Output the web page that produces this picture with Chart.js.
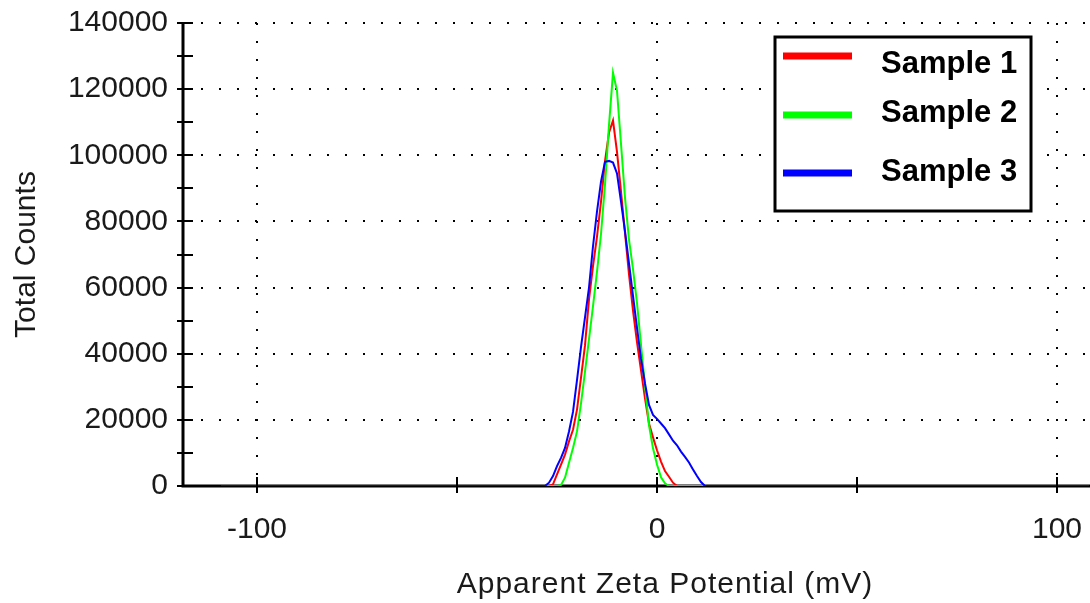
<!DOCTYPE html>
<html>
<head>
<meta charset="utf-8">
<script src="https://cdn.jsdelivr.net/npm/chart.js@4.4.1/dist/chart.umd.min.js"></script>
<style>
  html, body { margin: 0; padding: 0; background: #fff; }
  #wrap { width: 1090px; height: 603px; position: relative; }
</style>
</head>
<body>
<div id="wrap"><canvas id="zeta"></canvas></div>
<script>
const zeta = [-109, -28, -27, -26, -25, -24, -23, -22, -21, -20, -19, -18, -17, -16, -15, -14, -13, -12, -11, -10, -9,
  -8, -7, -6, -5, -4, -3, -2, -1, 0, 1, 2, 3, 4, 5, 6, 7, 8, 9, 10, 11, 12, 108];

const sample1 = [0, 0, 0, 500, 3500, 6500, 9500, 13500, 17000, 23100, 32800,
  42500, 56400, 66500, 75400, 86000, 98200, 106800, 110500, 101000, 89000,
  76500, 64000, 53000, 43500, 35000, 26500, 18900, 14700, 10800, 7400,
  4500, 2800, 1000, 0, 0, 0, 0, 0, 0, 0, 0, 0];
const sample2 = [0, 0, 0, 0, 0, 300, 2500, 7000, 11500, 16500, 25000,
  34600, 44400, 54400, 64800, 76200, 91200, 109100, 125000, 119500, 103500,
  87200, 74500, 65600, 55300, 42700, 30300, 18400, 11400, 6500, 2600,
  800, 0, 0, 0, 0, 0, 0, 0, 0, 0, 0, 0];
const sample3 = [0, 0, 1000, 3000, 6000, 8500, 11500, 16500, 22400, 32000, 42000,
  51000, 60000, 72500, 83000, 92000, 98000, 98300, 97800, 94500, 86000,
  77000, 67300, 57500, 47800, 38500, 31000, 24500, 21500, 20300, 18900,
  17500, 15600, 13700, 12300, 10400, 8800, 7100, 5000, 3000, 1200, 0, 0];

const seriesNames = ["Sample 1", "Sample 2", "Sample 3"];
const seriesColors = ["#ff0000", "#00ff00", "#0000ff"];
const xTicks = [-100, -50, 0, 50, 100];
const xLabels = [-100, 0, 100];
const xTitle = "Apparent Zeta Potential (mV)";

function toPoints(values){
    return zeta.map((z, i) => ({x: z, y: values[i]}));
}

const FONT = "'Liberation Sans', Arial, sans-serif";

// axis lines, crossing tick marks, x title and the boxed legend
const axesPlugin = {
    id: "axesPlugin",
    beforeDatasetsDraw(chart){
        const c = chart.ctx;
        const a = chart.chartArea;
        c.save();
        c.strokeStyle = "#000";
        c.lineWidth = 3;
        c.beginPath();
        c.moveTo(a.left, a.top);
        c.lineTo(a.left, a.bottom);
        c.lineTo(a.right, a.bottom);
        c.stroke();
        c.restore();
    },
    afterDatasetsDraw(chart){
        const c = chart.ctx;
        const a = chart.chartArea;
        const xs = chart.scales.x;
        const ys = chart.scales.y;
        c.save();
        c.strokeStyle = "#000";
        c.lineWidth = 2;
        c.beginPath();
        for(let v = 0; v <= 140000; v += 10000){
            const py = Math.round(ys.getPixelForValue(v));
            c.moveTo(a.left - 6, py);
            c.lineTo(a.left + 10, py);
        }
        xTicks.forEach(v => {
            const px = Math.round(xs.getPixelForValue(v));
            c.moveTo(px, a.bottom - 9);
            c.lineTo(px, a.bottom + 7);
        });
        c.stroke();

        // x axis title, a little letter-spaced like the original
        c.fillStyle = "#1a1a1a";
        c.font = "30px " + FONT;
        c.textAlign = "center";
        c.textBaseline = "middle";
        c.letterSpacing = "1px";
        c.fillText(xTitle, 665, 585);
        c.letterSpacing = "0px";

        // legend
        const box = {left: 775, top: 37, right: 1031, bottom: 211};
        c.fillStyle = "#fff";
        c.fillRect(box.left, box.top, box.right - box.left, box.bottom - box.top);
        c.lineWidth = 3;
        c.strokeRect(box.left, box.top, box.right - box.left, box.bottom - box.top);
        const lineY = [56, 115, 173];
        const textY = [64, 113, 172];
        c.font = "bold 31px " + FONT;
        c.textBaseline = "middle";
        c.textAlign = "left";
        seriesNames.forEach((name, i) => {
            c.strokeStyle = seriesColors[i];
            c.lineWidth = 7;
            c.beginPath();
            c.moveTo(783, lineY[i]);
            c.lineTo(852, lineY[i]);
            c.stroke();
            c.fillStyle = "#000";
            c.fillText(name, 881, textY[i]);
        });
        c.restore();
    }
};

const datasets = [sample1, sample2, sample3].map((vals, i) => ({
    label: seriesNames[i],
    data: toPoints(vals),
    borderColor: seriesColors[i],
    borderWidth: 2,
    pointRadius: 0,
    tension: 0,
    fill: false,
    order: 2 - i
}));

new Chart(document.getElementById("zeta"), {
    type: "line",
    data: { datasets: datasets },
    plugins: [axesPlugin],
    options: {
        responsive: true,
        maintainAspectRatio: false,
        animation: false,
        layout: { padding: { top: 23, right: 0, left: 0, bottom: 0 } },
        plugins: {
            legend: { display: false },
            tooltip: { enabled: false }
        },
        scales: {
            x: {
                type: "linear",
                min: -118.5,
                max: 108.25,
                afterBuildTicks(scale){
                    scale.ticks = xTicks.map(v => ({value: v}));
                },
                afterFit(scale){
                    scale.height = 117;
                    scale.paddingLeft = 0;
                    scale.paddingRight = 0;
                },
                grid: {
                    drawTicks: false,
                    lineWidth: 2,
                    color: ctx => (ctx.tick && xLabels.includes(ctx.tick.value)) ? "#000" : "rgba(0,0,0,0)"
                },
                border: { display: false, dash: [2, 16] },
                ticks: {
                    padding: 26,
                    autoSkip: false,
                    maxRotation: 0,
                    color: "#1a1a1a",
                    font: { family: FONT, size: 30 },
                    callback: v => xLabels.includes(v) ? String(v) : ""
                },
                title: { display: false }
            },
            y: {
                min: 0,
                max: 140000,
                afterFit(scale){
                    scale.width = 183;
                    scale.paddingTop = 0;
                    scale.paddingBottom = 0;
                },
                grid: {
                    drawTicks: false,
                    lineWidth: 2,
                    color: ctx => (ctx.tick && ctx.tick.value > 0) ? "#000" : "rgba(0,0,0,0)"
                },
                border: { display: false, dash: [2, 16] },
                ticks: {
                    stepSize: 20000,
                    padding: 15,
                    color: "#1a1a1a",
                    font: { family: FONT, size: 30 },
                    callback: v => String(v)
                },
                title: {
                    display: true,
                    text: "Total Counts",
                    color: "#1a1a1a",
                    font: { family: FONT, size: 30 },
                    padding: { top: 9, bottom: 0 }
                }
            }
        }
    }
});
</script>
</body>
</html>
